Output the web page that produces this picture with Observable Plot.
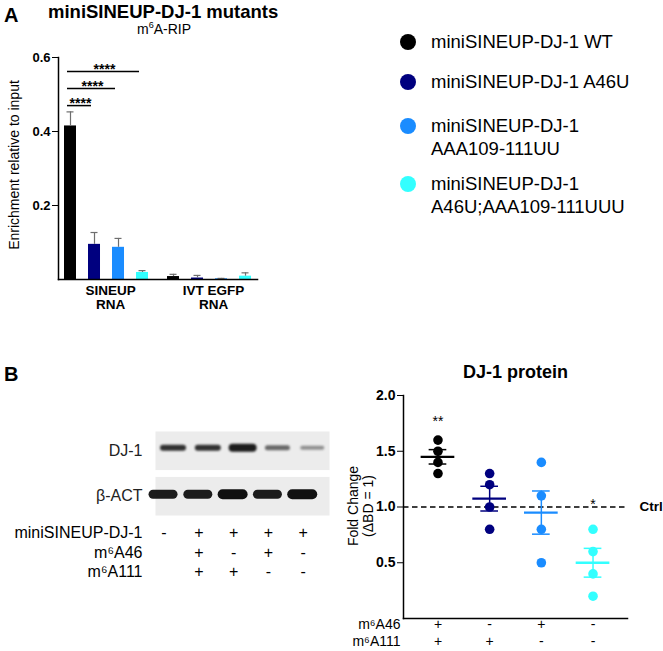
<!DOCTYPE html>
<html><head><meta charset="utf-8">
<script src="https://cdn.jsdelivr.net/npm/d3@7"></script>
<script src="https://cdn.jsdelivr.net/npm/@observablehq/plot@0.6"></script>
<style>
body{margin:0;background:#fff;}
#fig{position:relative;width:663px;height:651px;overflow:hidden;font-family:"Liberation Sans",Arial,Helvetica,sans-serif;color:#000;background:#fff;}
.abs{position:absolute;line-height:1;white-space:nowrap;}
.holder{position:absolute;}
.holder svg{overflow:visible;}
.sup{font-size:0.65em;vertical-align:super;line-height:0;}
</style></head><body><div id="fig"></div>
<script>
// ---------------- DATA ----------------
const variants = ["WT", "A46U", "AAA109-111UU", "A46U;AAA109-111UUU"];
const variantLabels = ["miniSINEUP-DJ-1 WT", "miniSINEUP-DJ-1 A46U", "miniSINEUP-DJ-1\nAAA109-111UU", "miniSINEUP-DJ-1\nA46U;AAA109-111UUU"];
const variantColors = ["#000000", "#00007f", "#1a8cff", "#33ffff"];

// Panel A: m6A-RIP enrichment
const ripGroups = ["SINEUP RNA", "IVT EGFP RNA"];
const ripGroupLabels = ["SINEUP\nRNA", "IVT EGFP\nRNA"];
const sineupMean = [0.415, 0.095, 0.087, 0.019];
const sineupErr  = [0.038, 0.032, 0.024, 0.005];
const ivtMean    = [0.008, 0.004, 0.002, 0.009];
const ivtErr     = [0.006, 0.007, 0.001, 0.009];
const ripYTicks = [0.2, 0.4, 0.6];
const ripSigTo = ["A46U", "AAA109-111UU", "A46U;AAA109-111UUU"];
const ripSigLevel = [0.470, 0.516, 0.562];
const ripSigLabel = ["****", "****", "****"];

// Panel B: western blot
const lanes = ["1", "2", "3", "4", "5"];
const laneSineup = ["-", "+", "+", "+", "+"];
const laneM46 = ["", "+", "-", "+", "-"];
const laneM111 = ["", "+", "+", "-", "-"];
const blotRows = ["DJ-1", "β-ACT"];
const dj1Intensity = [0.85, 0.85, 0.95, 0.6, 0.42];
const dj1Thickness = [6, 6, 8, 5, 4];
const actIntensity = [0.95, 0.95, 1.0, 0.95, 1.0];
const actThickness = [9, 9, 10, 9, 10];
const tableRowKeys = ["sineup", "m46", "m111"];
const tableRowLabels = ["miniSINEUP-DJ-1", "m⁶A46", "m⁶A111"];

// Panel B: DJ-1 protein fold change
const fcValues = [[1.6, 1.5, 1.4, 1.3], [1.3, 1.2, 1.0, 0.8], [1.4, 1.1, 0.8, 0.5], [0.8, 0.6, 0.4, 0.2]];
const fcM46 = ["+", "-", "+", "-"];
const fcM111 = ["+", "+", "-", "-"];
const fcRowLabels = ["m⁶A46", "m⁶A111"];
const fcYTicks = [0.5, 1.0, 1.5, 2.0];
const fcSigGroup = ["WT", "A46U;AAA109-111UUU"];
const fcSigLevel = [1.77, 1.02];
const fcSigLabel = ["**", "*"];
const ctrlLevel = [1];

// ---------------- LAYOUT HELPERS ----------------
const FONT = '"Liberation Sans", Arial, Helvetica, sans-serif';
const fig = document.getElementById("fig");
function place(node, left, top) {
  const h = document.createElement("div");
  h.className = "holder"; h.style.left = left + "px"; h.style.top = top + "px";
  h.appendChild(node); fig.appendChild(h); return h;
}
function label(html, css) {
  const d = document.createElement("div");
  d.className = "abs"; d.innerHTML = html; Object.assign(d.style, css);
  fig.appendChild(d); return d;
}
const supify = s => s.replace("⁶", '<span class="sup">6</span>');
const color = {type: "ordinal", domain: variants, range: variantColors};
const noFacetMargins = {marginTop: 0, marginRight: 0, marginBottom: 0, marginLeft: 0};

// ---------------- PANEL A ----------------
const ripData = ripGroups.flatMap((g, gi) => variants.map((v, i) => ({
  group: g, variant: v,
  mean: gi === 0 ? sineupMean[i] : ivtMean[i],
  err: gi === 0 ? sineupErr[i] : ivtErr[i]
})));
const ripSig = ripSigTo.map((to, k) => ({group: ripGroups[0], from: variants[0], to, level: ripSigLevel[k], label: ripSigLabel[k]}));
const barStep = 24, barBw = 12, brInL = 3, brInR = 9;
const starMarks = ripSig.map(s => {
  const idx = variants.indexOf(s.to);
  const mid = (brInL + idx * barStep + barBw - brInR) / 2 - barBw / 2;
  return Plot.text([s], {fx: "group", x: "from", y: "level", text: "label", dx: mid + 1, dy: -2,
    fontSize: 14, fontWeight: "bold"});
});

const plotA = Plot.plot({
  width: 290, height: 320,
  marginLeft: 58, marginRight: 20, marginTop: 57, marginBottom: 41,
  style: {fontFamily: FONT, fontSize: "13px", background: "transparent", overflow: "visible", color: "#000"},
  facet: noFacetMargins,
  fx: {domain: ripGroups, paddingInner: 7 / 103, paddingOuter: 0.063, align: 0, round: false, axis: null, label: null},
  x: {domain: variants, paddingInner: 0.5, paddingOuter: 0.25, round: false, axis: null, label: null},
  y: {domain: [0, 0.6], axis: null, label: null},
  color,
  marks: [
    Plot.barY(ripData, {fx: "group", x: "variant", y: "mean", fill: "variant"}),
    Plot.ruleX(ripData, {fx: "group", x: "variant", y1: "mean", y2: d => d.mean + d.err, stroke: "#6e6e6e", strokeWidth: 1.2}),
    Plot.tickY(ripData, {fx: "group", x: "variant", y: d => d.mean + d.err, stroke: "#6e6e6e", strokeWidth: 1.2, insetLeft: 2.5, insetRight: 2.5}),
    Plot.ruleY(ripSig, {fx: "group", x1: "from", x2: "to", y: "level", strokeWidth: 1.5, insetLeft: brInL, insetRight: brInR}),
    ...starMarks,
    Plot.axisY({ticks: ripYTicks, tickFormat: d3.format(".1f"), tickSize: 6, tickPadding: 2, fontWeight: "bold", fontSize: 13, label: null}),
    Plot.axisFx({anchor: "bottom", tickSize: 0, tickPadding: 6, fontWeight: "bold", fontSize: 13.5, lineAnchor: "top", dx: 4,
      tickFormat: g => ripGroupLabels[ripGroups.indexOf(g)], label: null}),
    Plot.frame({anchor: "left", facet: "super", strokeWidth: 1.5}),
    Plot.frame({anchor: "bottom", facet: "super", strokeWidth: 1.5})
  ]
});
place(plotA, 0, 0);

label("A", {left: "4px", top: "5px", fontSize: "20px", fontWeight: "bold"});
label("miniSINEUP-DJ-1 mutants", {left: "48px", top: "2.7px", fontSize: "18.5px", fontWeight: "bold"});
label(supify("m⁶A-RIP"), {left: "137px", top: "22px", fontSize: "14px"});
label("Enrichment relative to input", {left: "14px", top: "165px", fontSize: "14px", transform: "translate(-50%,-50%) rotate(-90deg)"});

// Legend
const legendTops = [30.1, 70.1, 114.1, 172.1];
variants.forEach((v, i) => {
  label(variantLabels[i].split("\n").join("<br>"), {left: "431px", top: legendTops[i] + "px", fontSize: "18.5px", lineHeight: "23px"});
  const c = document.createElement("div");
  Object.assign(c.style, {position: "absolute", left: "400.3px", top: (legendTops[i] + 3.6) + "px", width: "16px", height: "16px",
    borderRadius: "50%", background: variantColors[i]});
  fig.appendChild(c);
});

// ---------------- PANEL B: BLOT ----------------
const bandSymbol = {
  draw(ctx, size) {
    const h = Math.sqrt(size / Math.PI), w = 10;
    ctx.moveTo(-w, -h); ctx.lineTo(w, -h);
    ctx.arc(w, 0, h, -Math.PI / 2, Math.PI / 2);
    ctx.lineTo(-w, h);
    ctx.arc(-w, 0, h, Math.PI / 2, 3 * Math.PI / 2);
    ctx.closePath();
  }
};
const dj1Bands = lanes.map((l, i) => ({lane: l, row: blotRows[0], level: dj1Intensity[i], half: dj1Thickness[i] / 2}));
const actBands = lanes.map((l, i) => ({lane: l, row: blotRows[1], level: actIntensity[i], half: actThickness[i] / 2}));
const laneX = {domain: lanes, paddingInner: 0.25, paddingOuter: 0.302, align: 0.245, round: false, axis: null, label: null};

const blot = Plot.plot({
  width: 340, height: 120, marginLeft: 155, marginRight: 11, marginTop: 31, marginBottom: 5,
  style: {fontFamily: FONT, fontSize: "16px", background: "transparent", overflow: "visible", color: "#222"},
  facet: noFacetMargins,
  x: laneX,
  fy: {domain: blotRows, paddingInner: 0.15, paddingOuter: 0, round: false, axis: null, label: null},
  r: {type: "identity"},
  opacity: {type: "identity"},
  marks: [
    Plot.frame({fill: "#ececec", stroke: null}),
    Plot.dot(dj1Bands, {fy: "row", x: "lane", r: "half", symbol: bandSymbol, fill: "#111", fillOpacity: "level", dx: 9, dy: -3, imageFilter: "blur(0.8px)"}),
    Plot.dot(actBands, {fy: "row", x: "lane", r: "half", symbol: bandSymbol, fill: "#111", fillOpacity: "level", dx: -1, dy: -2, imageFilter: "blur(0.7px)"}),
    Plot.axisFy({anchor: "left", tickSize: 0, tickPadding: 13, fontSize: 16, label: null})
  ]
});
place(blot, 0, 400);

const tableData = lanes.flatMap((l, i) => [
  {lane: l, row: tableRowKeys[0], sign: laneSineup[i]},
  {lane: l, row: tableRowKeys[1], sign: laneM46[i]},
  {lane: l, row: tableRowKeys[2], sign: laneM111[i]}
]).filter(d => d.sign !== "");
const table = Plot.plot({
  width: 340, height: 60, marginLeft: 155, marginRight: 11, marginTop: 0, marginBottom: 1.5,
  style: {fontFamily: FONT, fontSize: "16px", background: "transparent", overflow: "visible", color: "#000"},
  x: laneX,
  y: {type: "band", domain: tableRowKeys, paddingInner: 0, paddingOuter: 0, round: false, axis: null, label: null},
  marks: [
    Plot.text(tableData, {x: "lane", y: "row", text: "sign", fontSize: 16}),
    Plot.axisY({anchor: "left", tickSize: 0, tickPadding: 13, fontSize: 16, label: null,
      tickFormat: k => tableRowLabels[tableRowKeys.indexOf(k)]})
  ]
});
place(table, 0, 523);

label("B", {left: "4px", top: "364.4px", fontSize: "20px", fontWeight: "bold"});

// ---------------- PANEL B: FOLD CHANGE ----------------
const fcPoints = variants.flatMap((v, i) => fcValues[i].map(value => ({group: v, value})));
const fcSummary = variants.map((v, i) => {
  const vals = fcValues[i];
  const m = d3.mean(vals), se = d3.deviation(vals) / Math.sqrt(vals.length);
  return {group: v, mean: m, lo: m - se, hi: m + se};
});
const fcSig = fcSigGroup.map((g, k) => ({group: g, level: fcSigLevel[k], label: fcSigLabel[k]}));
const fcCond = variants.map((v, i) => ({group: v, m46: fcM46[i], m111: fcM111[i]}));

const plotB = Plot.plot({
  width: 333, height: 271, marginLeft: 73, marginRight: 36, marginTop: 15, marginBottom: 33,
  style: {fontFamily: FONT, fontSize: "14px", background: "transparent", overflow: "visible", color: "#000"},
  x: {domain: variants, paddingInner: 0, paddingOuter: 0.167, round: false, axis: null, label: null},
  y: {domain: [0, 2], axis: null, label: null},
  color,
  marks: [
    Plot.ruleY(ctrlLevel, {strokeDasharray: "5.5,3.5", strokeWidth: 1.5}),
    Plot.text(ctrlLevel, {y: d => d, text: () => "Ctrl", frameAnchor: "right", textAnchor: "start", dx: 12, fontWeight: "bold", fontSize: 13.5}),
    Plot.dot(fcPoints, {x: "group", y: "value", fill: "group", r: 4.8}),
    Plot.ruleX(fcSummary, {x: "group", y1: "lo", y2: "hi", stroke: "group", strokeWidth: 1.5}),
    Plot.tickY(fcSummary, {x: "group", y: "hi", stroke: "group", strokeWidth: 1.5, insetLeft: 17, insetRight: 17}),
    Plot.tickY(fcSummary, {x: "group", y: "lo", stroke: "group", strokeWidth: 1.5, insetLeft: 17, insetRight: 17}),
    Plot.tickY(fcSummary, {x: "group", y: "mean", stroke: "group", strokeWidth: 2.3, insetLeft: 9, insetRight: 9}),
    Plot.text(fcSig, {x: "group", y: "level", text: "label", fontSize: 14}),
    Plot.axisY({ticks: fcYTicks, tickFormat: d3.format(".1f"), tickSize: 6, tickPadding: 2, fontWeight: "bold", fontSize: 14, label: null}),
    Plot.frame({anchor: "left", strokeWidth: 1.5}),
    Plot.frame({anchor: "bottom", strokeWidth: 1.5}),
    Plot.text(fcCond, {x: "group", text: "m46", frameAnchor: "bottom", dy: 10, fontSize: 14}),
    Plot.text(fcCond, {x: "group", text: "m111", frameAnchor: "bottom", dy: 27, fontSize: 14}),
    Plot.text([fcRowLabels[0]], {text: d => d, frameAnchor: "bottom-left", textAnchor: "end", dx: -3, dy: 10, fontSize: 14}),
    Plot.text([fcRowLabels[1]], {text: d => d, frameAnchor: "bottom-left", textAnchor: "end", dx: -3, dy: 27, fontSize: 14})
  ]
});
place(plotB, 330, 380);

label("DJ-1 protein", {left: "415.5px", top: "362.8px", width: "200px", textAlign: "center", fontSize: "18px", fontWeight: "bold"});
label("Fold Change<br>(ΔBD = 1)", {left: "360.5px", top: "506px", fontSize: "14px", lineHeight: "15px", textAlign: "center",
  transform: "translate(-50%,-50%) rotate(-90deg)"});
</script>
</body></html>
